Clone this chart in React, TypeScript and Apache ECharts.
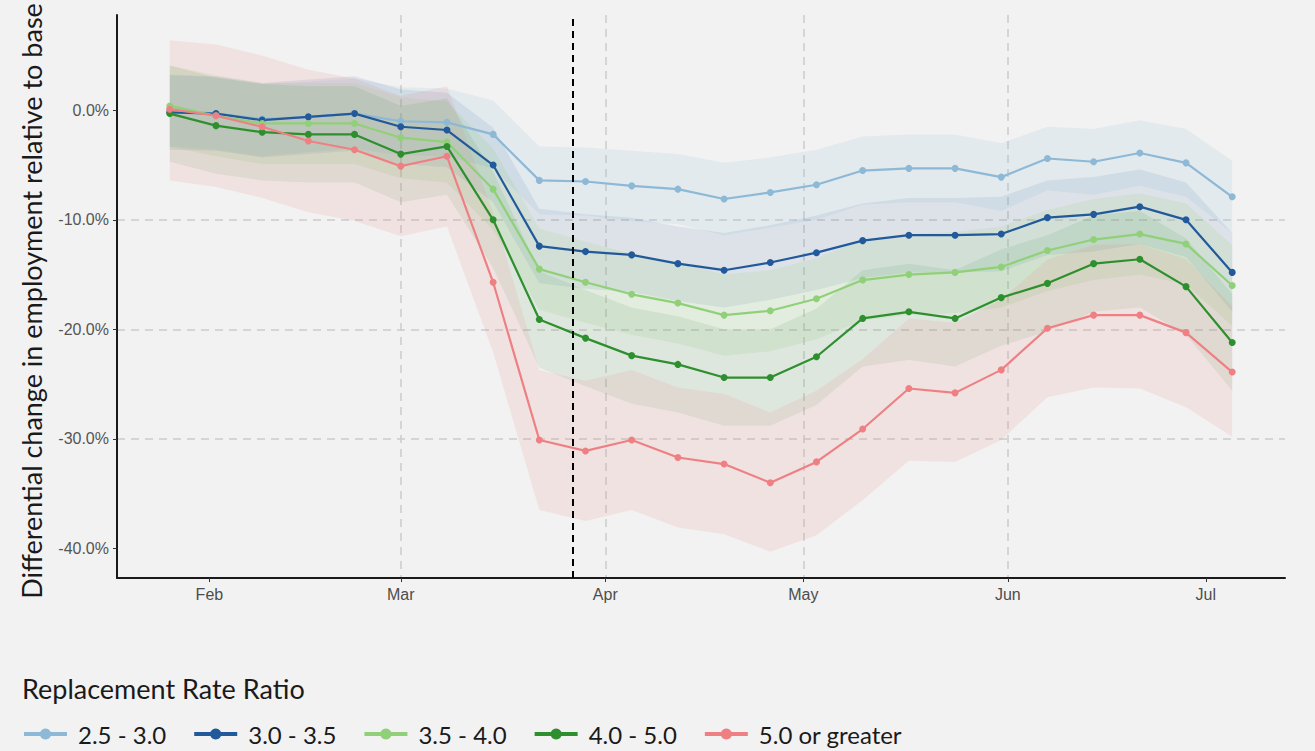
import React, { useEffect, useRef } from "react";
import * as echarts from "echarts";

const dates = [
  "2020-01-26", "2020-02-02", "2020-02-09", "2020-02-16", "2020-02-23", "2020-03-01",
  "2020-03-08", "2020-03-15", "2020-03-22", "2020-03-29", "2020-04-05", "2020-04-12",
  "2020-04-19", "2020-04-26", "2020-05-03", "2020-05-10", "2020-05-17", "2020-05-24",
  "2020-05-31", "2020-06-07", "2020-06-14", "2020-06-21", "2020-06-28", "2020-07-05",
];

const seriesNames = ["2.5 - 3.0", "3.0 - 3.5", "3.5 - 4.0", "4.0 - 5.0", "5.0 or greater"];

const rr25_30 = [0.0, -0.3, -0.8, -0.6, -0.3, -1.0, -1.1, -2.2, -6.4, -6.5, -6.9, -7.2, -8.1, -7.5, -6.8, -5.5, -5.3, -5.3, -6.1, -4.4, -4.7, -3.9, -4.8, -7.9];
const rr30_35 = [-0.2, -0.3, -0.9, -0.6, -0.3, -1.5, -1.8, -5.0, -12.4, -12.9, -13.2, -14.0, -14.6, -13.9, -13.0, -11.9, -11.4, -11.4, -11.3, -9.8, -9.5, -8.8, -10.0, -14.8];
const rr35_40 = [0.4, -0.5, -1.2, -1.2, -1.2, -2.5, -2.9, -7.2, -14.5, -15.7, -16.8, -17.6, -18.7, -18.3, -17.2, -15.5, -15.0, -14.8, -14.3, -12.8, -11.8, -11.3, -12.2, -16.0];
const rr40_50 = [-0.3, -1.4, -2.0, -2.2, -2.2, -4.0, -3.3, -10.0, -19.1, -20.8, -22.4, -23.2, -24.4, -24.4, -22.5, -19.0, -18.4, -19.0, -17.1, -15.8, -14.0, -13.6, -16.1, -21.2];
const rr50up = [0.1, -0.5, -1.5, -2.8, -3.6, -5.1, -4.2, -15.7, -30.1, -31.1, -30.1, -31.7, -32.3, -34.0, -32.1, -29.1, -25.4, -25.8, -23.7, -19.9, -18.7, -18.7, -20.3, -23.9];

const rr25_30Upper = [3.3, 3.0, 2.4, 2.6, 2.9, 2.1, 2.0, 0.9, -3.3, -3.4, -3.7, -4.0, -4.8, -4.3, -3.6, -2.4, -2.2, -2.2, -3.0, -1.5, -1.7, -0.9, -1.7, -4.6];
const rr25_30Lower = [-3.3, -3.6, -4.2, -3.8, -3.5, -4.1, -4.2, -5.3, -9.5, -9.6, -10.1, -10.4, -11.4, -10.7, -10.0, -8.6, -8.4, -8.4, -9.2, -7.3, -7.7, -6.9, -7.9, -11.2];
const rr30_35Upper = [3.2, 3.1, 2.5, 2.8, 3.1, 1.9, 1.6, -1.6, -9.0, -9.5, -9.8, -10.6, -11.2, -10.5, -9.6, -8.5, -8.0, -8.0, -7.9, -6.4, -6.1, -5.4, -6.6, -11.2];
const rr30_35Lower = [-3.6, -3.7, -4.3, -4.0, -3.7, -4.9, -5.2, -8.4, -15.8, -16.3, -16.6, -17.4, -18.0, -17.3, -16.4, -15.3, -14.8, -14.8, -14.7, -13.2, -12.9, -12.2, -13.4, -18.4];
const rr35_40Upper = [4.1, 3.2, 2.5, 2.5, 2.5, 1.2, 0.8, -3.5, -10.8, -12.0, -13.1, -13.9, -15.0, -14.6, -13.5, -11.8, -11.3, -11.1, -10.6, -9.1, -8.1, -7.6, -8.5, -12.3];
const rr35_40Lower = [-3.3, -4.2, -4.9, -4.9, -4.9, -6.2, -6.6, -10.9, -18.2, -19.4, -20.5, -21.3, -22.4, -22.0, -20.9, -19.2, -18.7, -18.5, -18.0, -16.5, -15.5, -15.0, -15.9, -19.7];
const rr40_50Upper = [4.1, 3.0, 2.4, 2.2, 2.2, 0.4, 1.1, -5.6, -14.7, -16.4, -18.0, -18.8, -20.0, -20.0, -18.1, -14.6, -14.0, -14.6, -12.7, -11.4, -9.6, -9.2, -11.7, -16.8];
const rr40_50Lower = [-4.7, -5.8, -6.4, -6.6, -6.6, -8.4, -7.7, -14.4, -23.5, -25.2, -26.8, -27.6, -28.8, -28.8, -26.9, -23.4, -22.8, -23.4, -21.5, -20.2, -18.4, -18.0, -20.5, -25.6];
const rr50upUpper = [6.4, 6.0, 5.0, 3.7, 2.9, 1.3, 2.2, -9.3, -23.7, -24.7, -23.7, -25.3, -25.9, -27.6, -25.6, -22.7, -19.0, -19.4, -17.3, -13.6, -12.3, -12.2, -13.6, -17.9];
const rr50upLower = [-6.4, -7.0, -8.0, -9.3, -10.1, -11.5, -10.6, -22.1, -36.5, -37.5, -36.5, -38.1, -38.7, -40.3, -38.8, -35.6, -32.0, -32.1, -30.1, -26.2, -25.3, -25.4, -27.1, -29.8];

const yTicks = [0, -10, -20, -30, -40];
const monthTicks = ["2020-02-01", "2020-03-01", "2020-04-01", "2020-05-01", "2020-06-01", "2020-07-01"];
const monthLabels = ["Feb", "Mar", "Apr", "May", "Jun", "Jul"];
const xMin = "2020-01-18";
const xMax = "2020-07-13";
const policyDate = "2020-03-27";

const lineColors = ["#8db8d6", "#22599a", "#90d078", "#2e8f2e", "#ee8084"];
const bandColors = [
  "rgba(140,190,215,0.16)",
  "rgba(40,90,160,0.10)",
  "rgba(140,210,115,0.15)",
  "rgba(50,140,50,0.10)",
  "rgba(240,120,120,0.13)",
];

const toTs = (d: string) => {
  const [y, m, dd] = d.split("-").map(Number);
  return Date.UTC(y, m - 1, dd);
};

export default function App() {
  const ref = useRef<HTMLDivElement>(null);
  useEffect(() => {
    if (!ref.current) return;
    const chart = echarts.init(ref.current, undefined, { renderer: "svg" });
    const ts = dates.map(toTs);
    const monthTs = monthTicks.map(toTs);
    const values = [rr25_30, rr30_35, rr35_40, rr40_50, rr50up];
    const uppers = [rr25_30Upper, rr30_35Upper, rr35_40Upper, rr40_50Upper, rr50upUpper];
    const lowers = [rr25_30Lower, rr30_35Lower, rr35_40Lower, rr40_50Lower, rr50upLower];

    const series: any[] = [];
    values.forEach((_, k) => {
      const up = uppers[k];
      const lo = lowers[k];
      series.push({
        type: "custom",
        name: "band-" + k,
        silent: true,
        z: 1,
        data: ts.map((t, i) => [t, lo[i], up[i]]),
        encode: { x: 0, y: [1, 2] },
        renderItem: (params: any, api: any) => {
          if (params.dataIndex !== 0) return null;
          const top = ts.map((t, i) => api.coord([t, up[i]]));
          const bottom = ts.map((t, i) => api.coord([t, lo[i]])).reverse();
          return {
            type: "polygon",
            shape: { points: top.concat(bottom) },
            style: { fill: bandColors[k], stroke: "none" },
          };
        },
      });
    });
    values.forEach((vals, k) => {
      const s: any = {
        type: "line",
        name: seriesNames[k],
        data: vals.map((v, i) => [ts[i], v]),
        symbol: "circle",
        symbolSize: 7,
        color: lineColors[k],
        lineStyle: { color: lineColors[k], width: 2.2 },
        itemStyle: { color: lineColors[k] },
        z: 3,
      };
      if (k === 0) {
        s.markLine = {
          silent: true,
          symbol: ["none", "none"],
          label: { show: false },
          lineStyle: { color: "#000", type: [7, 5], width: 2 },
          data: [{ xAxis: toTs(policyDate) }],
        };
      }
      series.push(s);
    });

    chart.setOption({
      animation: false,
      backgroundColor: "#f2f2f2",
      grid: { left: 117, right: 30, top: 15, bottom: 173, containLabel: false },
      title: {
        text: "Replacement Rate Ratio",
        left: 17,
        top: 670,
        textStyle: { fontFamily: "Lato", fontSize: 27, fontWeight: "normal", color: "#1a1a1a" },
      },
      legend: {
        data: seriesNames,
        left: 17,
        top: 717,
        itemWidth: 43,
        itemHeight: 14,
        itemGap: 26,
        lineStyle: { width: 4 },
        textStyle: { fontFamily: "Lato", fontSize: 24, color: "#1a1a1a", padding: [0, 0, 0, 6] },
      },
      graphic: [
        {
          type: "text",
          x: 31,
          y: 301,
          rotation: Math.PI / 2,
          style: {
            text: "Differential change in employment relative to base",
            font: "27px Lato",
            fill: "#1a1a1a",
            align: "center",
            verticalAlign: "middle",
          },
        },
      ],
      xAxis: {
        type: "value",
        min: toTs(xMin),
        max: toTs(xMax),
        axisLine: { onZero: false, lineStyle: { color: "#1a1a1a", width: 2 } },
        axisTick: { show: true, length: 4, customValues: monthTs, lineStyle: { color: "#333" } },
        axisLabel: {
          customValues: monthTs,
          formatter: (v: number) => {
            const i = monthTs.indexOf(v);
            return i >= 0 ? monthLabels[i] : "";
          },
          color: "#4d4d4d",
          fontFamily: "Liberation Sans",
          fontSize: 16,
          margin: 8,
        },
        splitLine: { show: true, showMinLine: false, showMaxLine: false, lineStyle: { color: "#cccccc", type: [8, 6], width: 1.5 } },
      },
      yAxis: {
        type: "value",
        min: -42.7,
        max: 8.7,
        axisLine: { show: true, onZero: false, lineStyle: { color: "#1a1a1a", width: 2 } },
        axisTick: { show: true, length: 4, customValues: yTicks, lineStyle: { color: "#333" } },
        axisLabel: {
          customValues: yTicks,
          formatter: (v: number) => v.toFixed(1) + "%",
          color: "#555555",
          fontFamily: "Liberation Sans",
          fontSize: 16,
          margin: 8,
        },
        splitLine: { show: true, showMinLine: false, showMaxLine: false, lineStyle: { color: "#cccccc", type: [8, 6], width: 1.5 } },
      },
      series,
    });
    return () => chart.dispose();
  }, []);
  return <div ref={ref} style={{ position: "fixed", left: 0, top: 0, width: 1315, height: 751 }} />;
}
